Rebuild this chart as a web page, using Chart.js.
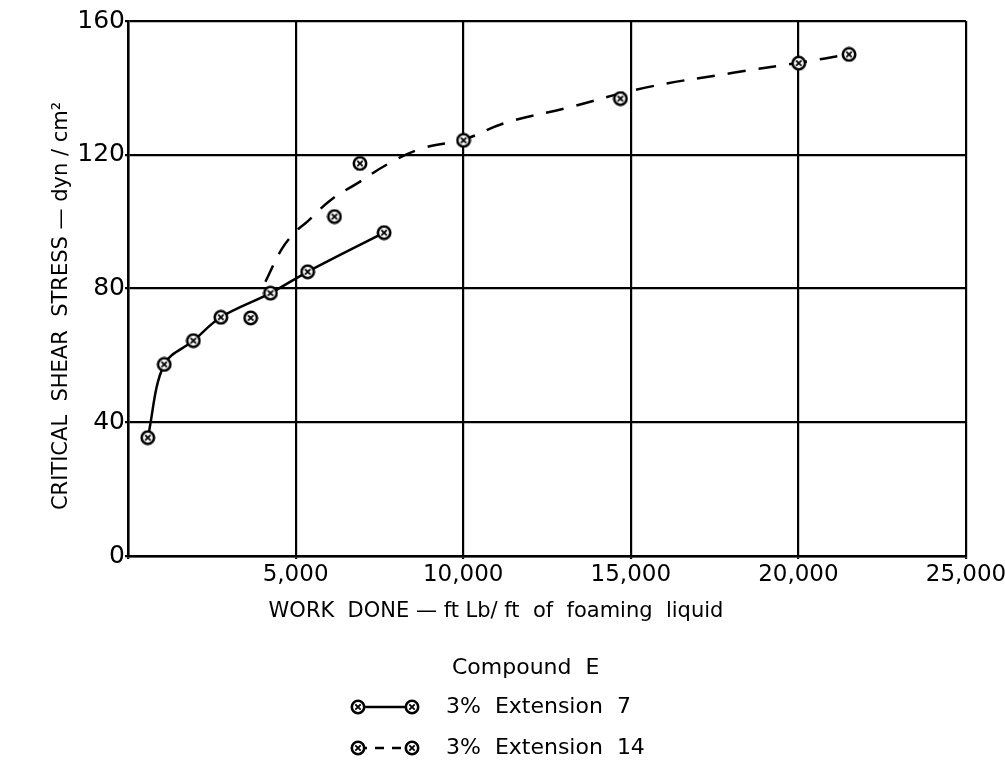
<!DOCTYPE html>
<html>
<head>
<meta charset="utf-8">
<script src="https://cdn.jsdelivr.net/npm/chart.js@4.4.1/dist/chart.umd.min.js"></script>
<style>
  html, body { margin: 0; padding: 0; background: #fff; }
  #wrap { width: 1005px; height: 769px; position: relative; }
</style>
</head>
<body>
<div id="wrap"><canvas id="shearChart"></canvas></div>
<script>
// Values
const ext7Work = [590, 1080, 1950, 2770, 4250, 5360, 7640];
const ext7Stress = [35.4, 57.3, 64.4, 71.4, 78.6, 85.0, 96.7];

const ext14Work = [3660, 6160, 6920, 10010, 14690, 20010, 21510];
const ext14Stress = [71.2, 101.5, 117.4, 124.3, 136.8, 147.4, 150.0];

// dashed fitted curve for Extension 14
const fit14Work = [4100, 4600, 5050, 5350, 6050, 6850, 7800, 8800, 10000, 11250, 13100, 15400, 18050, 20000, 21500];
const fit14Stress = [82, 92, 97.5, 100, 106.5, 111.5, 117.5, 122, 124.5, 129.5, 134, 140, 144.5, 147.5, 150];

const xTicks = [0, 5000, 10000, 15000, 20000, 25000];
const yTicks = [0, 40, 80, 120, 160];

const FONT = '"DejaVu Sans", sans-serif';

const toPoints = (xs, ys) => xs.map((x, i) => ({ x: x, y: ys[i] }));

// circle-with-cross marker
const makeMarker = () => {
    const c = document.createElement('canvas');
    c.width = 16;
    c.height = 16;
    const g = c.getContext('2d');
    g.fillStyle = '#fff';
    g.strokeStyle = '#000';
    g.lineWidth = 2.6;
    g.beginPath();
    g.arc(8, 8, 6.2, 0, Math.PI * 2);
    g.fill();
    g.stroke();
    g.lineWidth = 1.8;
    g.beginPath();
    g.moveTo(5.3, 5.3); g.lineTo(10.7, 10.7);
    g.moveTo(10.7, 5.3); g.lineTo(5.3, 10.7);
    g.stroke();
    return c;
};
const marker = makeMarker();

// titles and the legend block under the x axis
const decorPlugin = {
    id: 'decor',
    afterDraw(chart) {
        const ctx = chart.ctx;
        ctx.save();
        ctx.fillStyle = '#000';
        ctx.strokeStyle = '#000';
        ctx.textBaseline = 'middle';

        // x title
        ctx.font = '21px ' + FONT;
        ctx.textAlign = 'center';
        ctx.fillText('WORK  DONE \u2014 ft Lb/ ft  of  foaming  liquid', 496, 612);

        // y title
        ctx.save();
        ctx.translate(62, 306);
        ctx.rotate(-Math.PI / 2);
        ctx.fillText('CRITICAL  SHEAR  STRESS \u2014 dyn / cm\u00B2', 0, 0);
        ctx.restore();

        // legend
        ctx.font = '22px ' + FONT;
        ctx.textAlign = 'left';
        ctx.fillText('Compound  E', 452, 668);
        const rows = [
            { y: 707, dash: [], label: '3%  Extension  7' },
            { y: 748, dash: [9, 8], label: '3%  Extension  14' }
        ];
        rows.forEach(r => {
            ctx.lineWidth = 2.5;
            ctx.setLineDash(r.dash);
            ctx.beginPath();
            ctx.moveTo(358, r.y);
            ctx.lineTo(412, r.y);
            ctx.stroke();
            ctx.setLineDash([]);
            ctx.drawImage(marker, 358 - 8, r.y - 8);
            ctx.drawImage(marker, 412 - 8, r.y - 8);
            ctx.fillText(r.label, 446, r.y);
        });
        ctx.restore();
    }
};

const ctx = document.getElementById('shearChart').getContext('2d');
const shearChart = new Chart(ctx, {
    type: 'scatter',
    data: {
        datasets: [
            {
                label: '3% Extension 7',
                data: toPoints(ext7Work, ext7Stress),
                showLine: true,
                borderColor: '#000',
                borderWidth: 2.5,
                tension: 0.35,
                pointStyle: marker,
                order: 1
            },
            {
                label: '3% Extension 14',
                data: toPoints(ext14Work, ext14Stress),
                showLine: false,
                pointStyle: marker,
                order: 0
            },
            {
                label: '3% Extension 14 (curve)',
                data: toPoints(fit14Work, fit14Stress),
                showLine: true,
                borderColor: '#000',
                borderWidth: 2.5,
                borderDash: [18, 13],
                tension: 0.4,
                pointRadius: 0,
                order: 2
            }
        ]
    },
    options: {
        responsive: true,
        maintainAspectRatio: false,
        animation: false,
        layout: { padding: { left: 0, top: 21, right: 39, bottom: 181 } },
        plugins: {
            legend: { display: false },
            tooltip: { enabled: false }
        },
        scales: {
            x: {
                type: 'linear',
                min: 0,
                max: 25000,
                afterBuildTicks: scale => { scale.ticks = xTicks.map(v => ({ value: v })); },
                afterFit: scale => {
                    scale.height = 32;
                    scale.paddingLeft = 0;
                    scale.paddingRight = 0; // let "25,000" overhang like the original
                },
                grid: { color: '#000', lineWidth: 2.2, tickLength: 3 },
                border: { color: '#000', width: 2.5 },
                ticks: {
                    color: '#000',
                    font: { family: FONT, size: 23 },
                    padding: 2,
                    maxRotation: 0,
                    callback: v => v === 0 ? '' : v.toLocaleString('en-US')
                }
            },
            y: {
                min: 0,
                max: 160,
                afterBuildTicks: scale => { scale.ticks = yTicks.map(v => ({ value: v })); },
                afterFit: scale => { scale.width = 128; },
                grid: { color: '#000', lineWidth: 2.2, tickLength: 3 },
                border: { color: '#000', width: 2.5 },
                ticks: {
                    color: '#000',
                    font: { family: FONT, size: 25 },
                    padding: 0
                }
            }
        }
    },
    plugins: [decorPlugin]
});
</script>
</body>
</html>
